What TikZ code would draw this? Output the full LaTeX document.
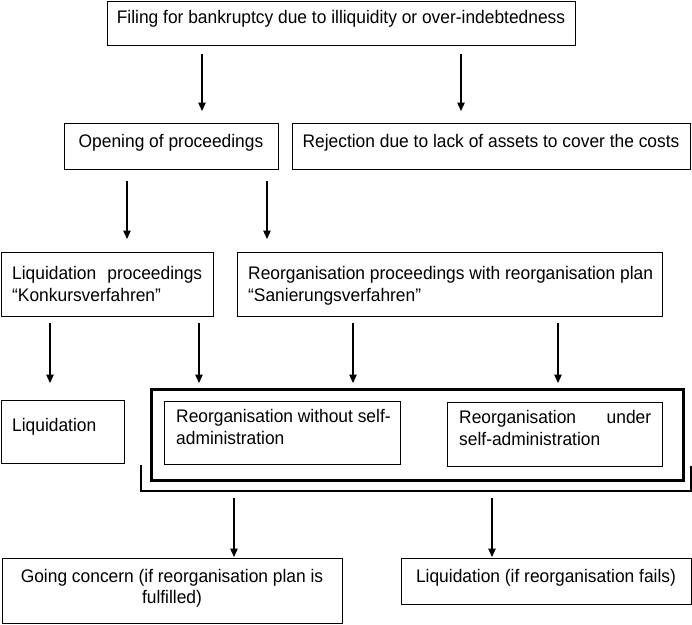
\documentclass[tikz,border=0pt]{standalone}
\usepackage{fontspec}
\setmainfont{Liberation Sans}[FakeStretch=0.955]
\usetikzlibrary{arrows.meta,calc}
\begin{document}
\begin{tikzpicture}[x=1pt,y=-1pt,
  box/.style={draw=black, line width=1pt, inner sep=0pt, anchor=north west},
  groupframe/.style={draw=black, line width=3pt, inner sep=0pt, anchor=north west},
  txt/.style={inner sep=0pt, anchor=base west, font=\fontsize{18.2}{22}\selectfont},
  txtc/.style={txt, anchor=base},
  arr/.style={line width=1.2pt, -{Triangle[length=8.5pt,width=7.5pt]}},
  bracket/.style={line width=1.3pt}]
\useasboundingbox (0,0) rectangle (692,624);
% boxes
\node[box, minimum width=468pt, minimum height=44pt] (nfile) at (107,1) {};
\node[box, minimum width=214pt, minimum height=46pt] (open) at (64,123) {};
\node[box, minimum width=398pt, minimum height=46pt] (rej) at (292,123) {};
\node[box, minimum width=212pt, minimum height=64pt] (liqp) at (1,252) {};
\node[box, minimum width=425pt, minimum height=64pt] (reop) at (237,252) {};
\node[box, minimum width=123pt, minimum height=63pt] (liq) at (1,400) {};
\node[groupframe, minimum width=532pt, minimum height=91pt] (grp) at (150,388) {};
\node[box, minimum width=236pt, minimum height=63pt] (ra) at (164,401) {};
\node[box, minimum width=215pt, minimum height=64pt] (rb) at (447,402) {};
\node[box, minimum width=340pt, minimum height=65pt] (gc) at (2,558) {};
\node[box, minimum width=290pt, minimum height=46pt] (lf) at (401,558) {};
% texts
\node[txtc] (t1) at (341,23) {Filing for bankruptcy due to illiquidity or over-indebtedness};
\node[txtc] (t2) at (171,147) {Opening of proceedings};
\node[txtc] (t3) at (491,147) {Rejection due to lack of assets to cover the costs};
\node[txt] (t4a) at (12,279) {\hbox to 190pt{Liquidation\hfill proceedings}};
\node[txt] (t4b) at (12,301) {“Konkursverfahren”};
\node[txt] (t5a) at (248,279) {Reorganisation proceedings with reorganisation plan};
\node[txt] (t5b) at (248,301) {“Sanierungsverfahren”};
\node[txt] (t6) at (12,431) {Liquidation};
\node[txt] (t7a) at (176,422) {Reorganisation without self-};
\node[txt] (t7b) at (176,444) {administration};
\node[txt] (t8a) at (459,423) {\hbox to 192pt{Reorganisation\hfill under}};
\node[txt] (t8b) at (459,445) {self-administration};
\node[txtc] (t9a) at (172,582) {Going concern (if reorganisation plan is};
\node[txtc] (t9b) at (172,603) {fulfilled)};
\node[txtc] (t10) at (546,582) {Liquidation (if reorganisation fails)};
% bracket under the group
\coordinate (bl) at (141,465);
\coordinate (br) at (691,466);
\coordinate (bb) at (0,491);
\draw[bracket] (bl) |- (br |- bb) -- (br);
% arrows
\draw[arr] ($(nfile.south -| 202,0)+(0,8)$) -- ($(open.north -| 202,0)+(0,-12)$);
\draw[arr] ($(nfile.south -| 461,0)+(0,8)$) -- ($(rej.north -| 461,0)+(0,-12)$);
\draw[arr] ($(open.south -| 127,0)+(0,11)$) -- ($(liqp.north -| 127,0)+(0,-13)$);
\draw[arr] ($(open.south -| 267,0)+(0,11)$) -- ($(reop.north -| 267,0)+(0,-13)$);
\draw[arr] ($(liqp.south -| 50,0)+(0,6)$) -- ($(liq.north -| 50,0)+(0,-17)$);
\draw[arr] ($(liqp.south -| 199,0)+(0,6)$) -- ($(grp.north -| 199,0)+(0,-5)$);
\draw[arr] ($(reop.south -| 353,0)+(0,6)$) -- ($(grp.north -| 353,0)+(0,-5)$);
\draw[arr] ($(reop.south -| 558,0)+(0,6)$) -- ($(grp.north -| 558,0)+(0,-5)$);
\draw[arr] ($(bb -| 234,0)+(0,7)$) -- ($(gc.north -| 234,0)+(0,-1)$);
\draw[arr] ($(bb -| 492,0)+(0,7)$) -- ($(lf.north -| 492,0)+(0,-1)$);
\end{tikzpicture}
\end{document}
